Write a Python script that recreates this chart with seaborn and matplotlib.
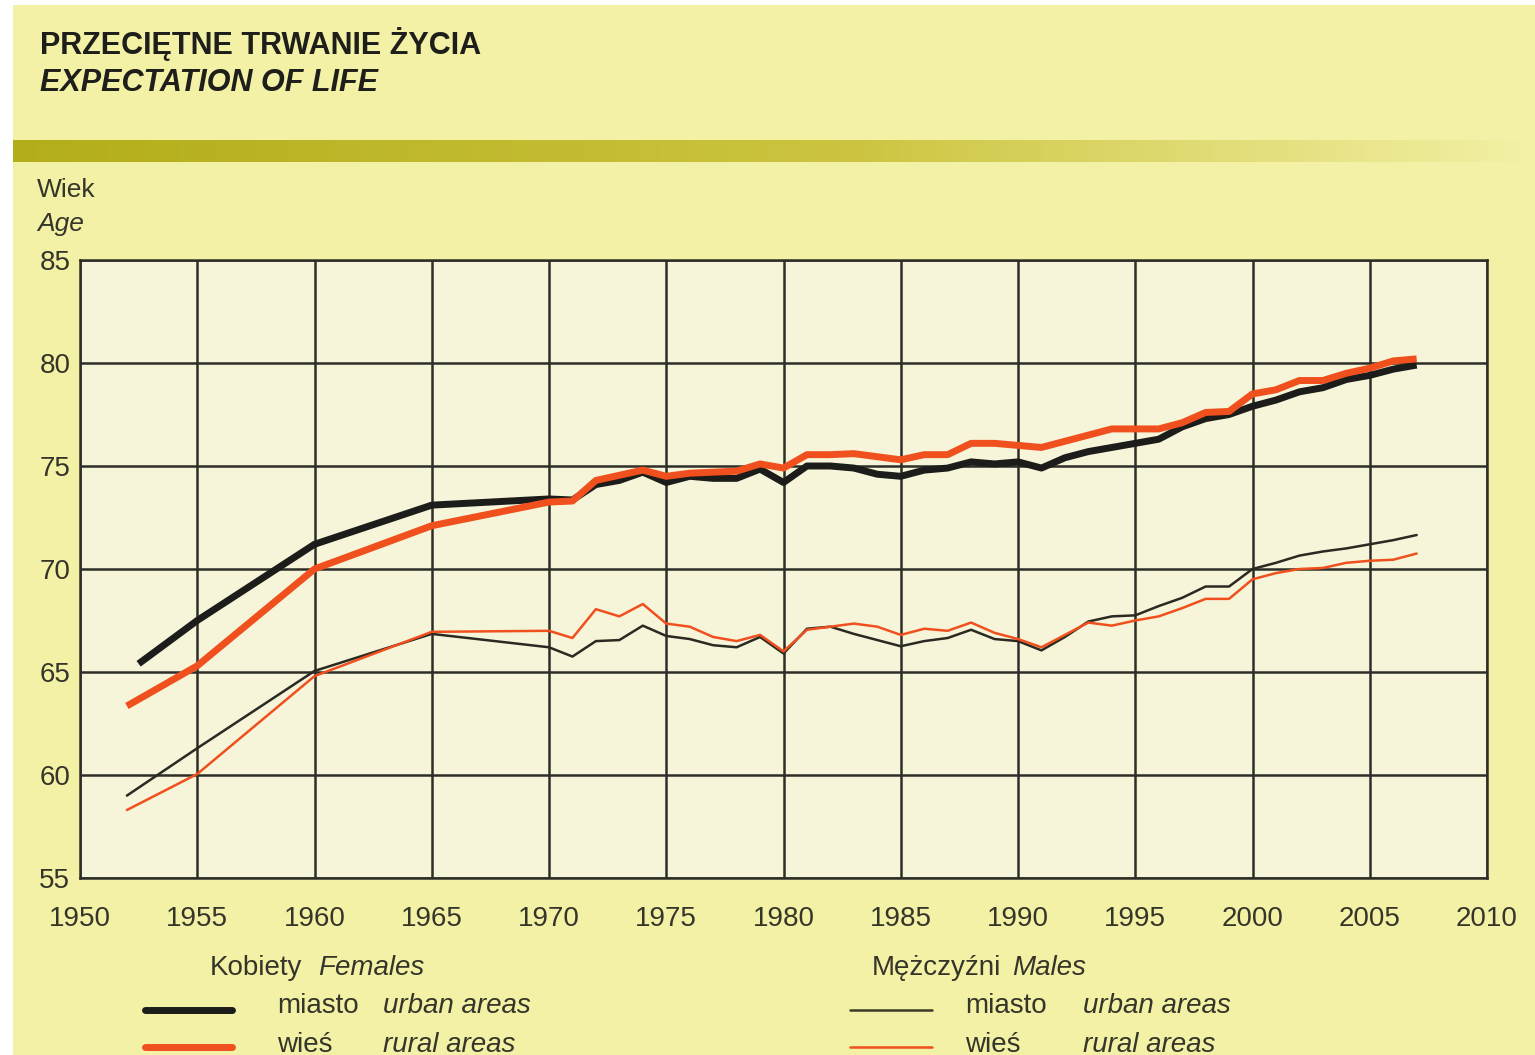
import numpy as np
import pandas as pd
import matplotlib
matplotlib.use("Agg")
import matplotlib.pyplot as plt
import seaborn as sns
from matplotlib import font_manager
from matplotlib.lines import Line2D
from matplotlib.patches import Rectangle

# ---------------- data ----------------
annual_years = list(range(1970, 2008))

years_f_urban = [1952.5, 1955, 1960, 1965] + annual_years
years_other = [1952, 1955, 1960, 1965] + annual_years

female_urban = [65.4, 67.5, 71.2, 73.1,
                73.4, 73.35, 74.1, 74.3, 74.7, 74.2, 74.5, 74.4, 74.4, 74.85,
                74.2, 75.0, 75.0, 74.9, 74.6, 74.5, 74.8, 74.9, 75.2, 75.1,
                75.2, 74.9, 75.4, 75.7, 75.9, 76.1, 76.3, 76.9, 77.3, 77.5,
                77.9, 78.2, 78.6, 78.8, 79.2, 79.4, 79.7, 79.9]
female_rural = [63.35, 65.3, 70.0, 72.1,
                73.25, 73.3, 74.3, 74.55, 74.8, 74.5, 74.65, 74.7, 74.75, 75.1,
                74.9, 75.55, 75.55, 75.6, 75.45, 75.3, 75.55, 75.55, 76.1, 76.1,
                76.0, 75.9, 76.2, 76.5, 76.8, 76.8, 76.8, 77.1, 77.6, 77.65,
                78.5, 78.7, 79.15, 79.15, 79.5, 79.75, 80.1, 80.2]
male_urban = [59.0, 61.3, 65.05, 66.85,
              66.2, 65.75, 66.5, 66.55, 67.25, 66.75, 66.6, 66.3, 66.2, 66.7,
              65.9, 67.1, 67.2, 66.85, 66.55, 66.25, 66.5, 66.65, 67.05, 66.6,
              66.5, 66.05, 66.7, 67.45, 67.7, 67.75, 68.2, 68.6, 69.15, 69.15,
              70.0, 70.3, 70.65, 70.85, 71.0, 71.2, 71.4, 71.65]
male_rural = [58.3, 60.05, 64.8, 66.95,
              67.0, 66.65, 68.05, 67.7, 68.3, 67.35, 67.2, 66.7, 66.5, 66.8,
              66.0, 67.05, 67.2, 67.35, 67.2, 66.8, 67.1, 67.0, 67.4, 66.9,
              66.6, 66.2, 66.8, 67.4, 67.25, 67.5, 67.7, 68.1, 68.55, 68.55,
              69.5, 69.8, 70.0, 70.05, 70.3, 70.4, 70.45, 70.75]

x_ticks = list(range(1950, 2011, 5))
y_ticks = list(range(55, 86, 5))

title_pl = "PRZECIĘTNE TRWANIE ŻYCIA"
title_en = "EXPECTATION OF LIFE"

# ---------------- style ----------------
sns.set_style("white")
available = {f.name for f in font_manager.fontManager.ttflist}
narrow = "Liberation Sans Narrow" if "Liberation Sans Narrow" in available else "Liberation Sans"
plt.rcParams["font.family"] = [narrow, "DejaVu Sans"]

W, H = 1535, 1055
fig = plt.figure(figsize=(W / 100, H / 100), dpi=100)
fig.patch.set_facecolor("white")

def fy(y):
    return 1 - y / H

def fx(x):
    return x / W

# yellow panel (behind everything)
bg_ax = fig.add_axes([0, 0, 1, 1], zorder=-10)
bg_ax.set_axis_off()
bg_ax.set_xlim(0, 1)
bg_ax.set_ylim(0, 1)
bg_ax.add_patch(Rectangle((fx(13), 0), 1 - fx(13), fy(5),
                          facecolor="#F3F1A6", edgecolor="none"))

# olive gradient band
band_ax = fig.add_axes([fx(13), fy(162), 1 - fx(13), (162 - 140) / H], zorder=-5)
band_ax.set_axis_off()
c0 = np.array([0.70, 0.68, 0.10])
c1 = np.array([0.80, 0.77, 0.25])
c2 = np.array([0.953, 0.945, 0.65])
t = np.linspace(0, 1, 400)
cols = []
for v in t:
    if v < 0.55:
        c = c0 + (c1 - c0) * (v / 0.55)
    else:
        c = c1 + (c2 - c1) * ((v - 0.55) / 0.45)
    cols.append(c)
grad = np.array(cols)[None, :, :]
band_ax.imshow(grad, aspect="auto", extent=[0, 1, 0, 1])

# main axes
ax = fig.add_axes([fx(80), fy(878), fx(1487) - fx(80), (878 - 260) / H], zorder=1)
ax.set_facecolor("#F6F5D9")

orange = "#F0501E"
black = "#1C1C1A"
thin_dark = "#2A2A22"

df_fu = pd.DataFrame({"year": years_f_urban, "value": female_urban})
df_fr = pd.DataFrame({"year": years_other, "value": female_rural})
df_mu = pd.DataFrame({"year": years_other, "value": male_urban})
df_mr = pd.DataFrame({"year": years_other, "value": male_rural})

sns.lineplot(data=df_mu, x="year", y="value", ax=ax, color=thin_dark, lw=1.8, zorder=3)
sns.lineplot(data=df_mr, x="year", y="value", ax=ax, color=orange, lw=1.8, zorder=4)
sns.lineplot(data=df_fu, x="year", y="value", ax=ax, color=black, lw=5.0, zorder=5,
             solid_capstyle="butt")
sns.lineplot(data=df_fr, x="year", y="value", ax=ax, color=orange, lw=5.0, zorder=6,
             solid_capstyle="butt")

ax.set_xlim(1950, 2010)
ax.set_ylim(55, 85)
ax.set_xticks(x_ticks)
ax.set_yticks(y_ticks)
ax.set_xlabel("")
ax.set_ylabel("")
ax.grid(True, color="#2E2E28", lw=1.8, zorder=1)
ax.set_axisbelow(True)
for sp in ax.spines.values():
    sp.set_color("#2E2E28")
    sp.set_linewidth(1.8)
ax.tick_params(axis="both", length=0, labelsize=20, colors="#35352A")
ax.tick_params(axis="x", pad=20)
ax.tick_params(axis="y", pad=7)

# titles
fig.text(fx(40), fy(44), title_pl, fontsize=22, fontweight="bold", color="#1E1E1A",
         ha="left", va="center")
fig.text(fx(40), fy(83), title_en, fontsize=22, fontweight="bold", fontstyle="italic",
         color="#1E1E1A", ha="left", va="center")

# y axis caption
fig.text(fx(37), fy(190), "Wiek", fontsize=19, color="#35352A", ha="left", va="center")
fig.text(fx(37), fy(224), "Age", fontsize=19, fontstyle="italic", color="#35352A",
         ha="left", va="center")

# legend (manual)
txt = "#35352A"
fig.text(fx(210), fy(968), "Kobiety", fontsize=20, color=txt, ha="left", va="center")
fig.text(fx(318), fy(968), "Females", fontsize=20, fontstyle="italic", color=txt,
         ha="left", va="center")
fig.text(fx(872), fy(968), "Mężczyźni", fontsize=20, color=txt, ha="left", va="center")
fig.text(fx(1012), fy(968), "Males", fontsize=20, fontstyle="italic", color=txt,
         ha="left", va="center")

rows = [(1006, "miasto", "urban areas"), (1045, "wieś", "rural areas")]
for (yy, pl, en) in rows:
    fig.text(fx(277), fy(yy), pl, fontsize=20, color=txt, ha="left", va="center")
    fig.text(fx(383), fy(yy), en, fontsize=20, fontstyle="italic", color=txt,
             ha="left", va="center")
    fig.text(fx(965), fy(yy), pl, fontsize=20, color=txt, ha="left", va="center")
    fig.text(fx(1083), fy(yy), en, fontsize=20, fontstyle="italic", color=txt,
             ha="left", va="center")

fig.lines.append(Line2D([fx(145), fx(232)], [fy(1010), fy(1010)], transform=fig.transFigure,
                        color=black, lw=5.0))
fig.lines.append(Line2D([fx(145), fx(232)], [fy(1047), fy(1047)], transform=fig.transFigure,
                        color=orange, lw=5.0))
fig.lines.append(Line2D([fx(850), fx(932)], [fy(1010), fy(1010)], transform=fig.transFigure,
                        color="#3C3C2A", lw=1.8))
fig.lines.append(Line2D([fx(850), fx(932)], [fy(1047), fy(1047)], transform=fig.transFigure,
                        color=orange, lw=1.8))

fig.savefig("out.png", dpi=100, facecolor=fig.get_facecolor())
